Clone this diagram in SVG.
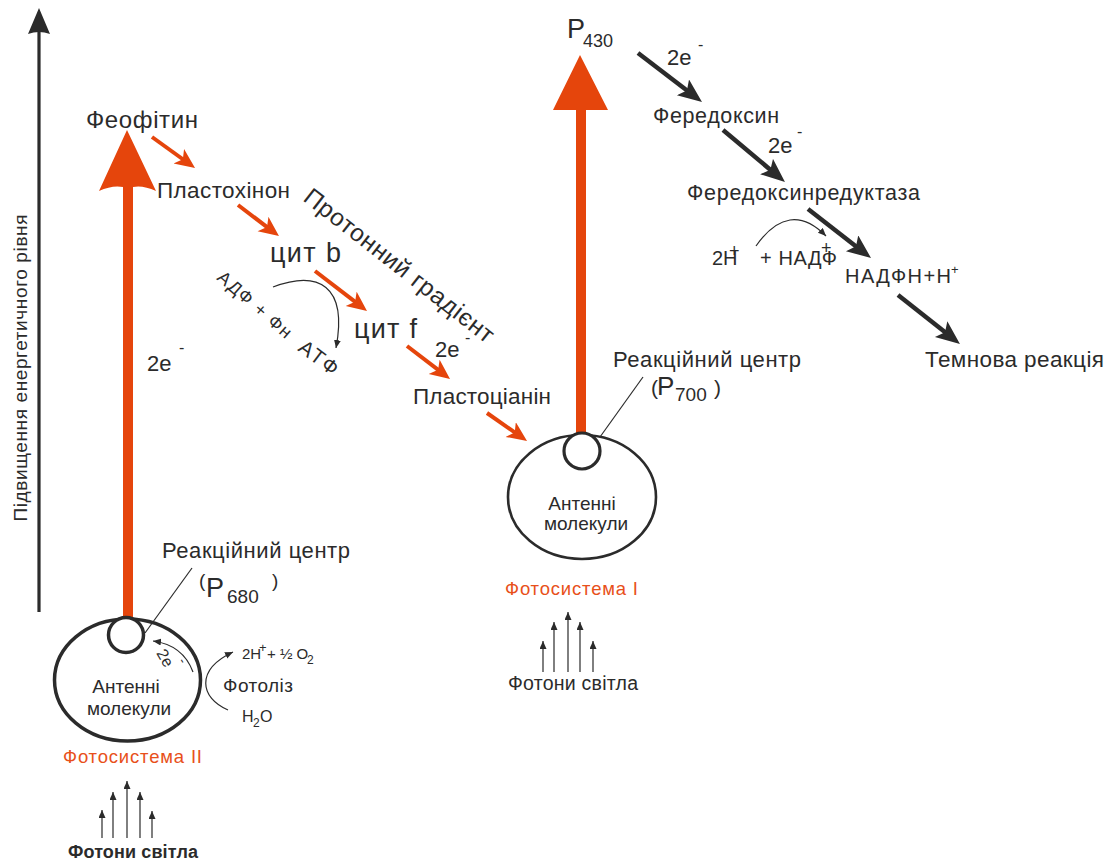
<svg xmlns="http://www.w3.org/2000/svg" width="1111" height="863" viewBox="0 0 1111 863">
<style>
text{font-family:"Liberation Sans",Arial,sans-serif;fill:#2b2b2b}
.or{fill:#E8501A}
.ra{stroke:#E5450C;stroke-width:4;fill:none}
.ba{stroke:#2b2b2b;stroke-width:4.5;fill:none}
.th{stroke:#2b2b2b;stroke-width:1.2;fill:none}
.big{fill:#E5450C}
</style>
<defs>
<marker id="ha" markerUnits="userSpaceOnUse" markerWidth="22" markerHeight="20" refX="8" refY="9" orient="auto"><path d="M0,0 L20,9 L0,18 L5,9 Z" fill="#E5450C"/></marker>
<marker id="hb" markerUnits="userSpaceOnUse" markerWidth="26" markerHeight="22" refX="8" refY="10" orient="auto"><path d="M0,0 L24,10 L0,20 L5,10 Z" fill="#2b2b2b"/></marker>
<marker id="hs" markerUnits="userSpaceOnUse" markerWidth="9" markerHeight="8" refX="8" refY="3.5" orient="auto"><path d="M0,0 L8,3.5 L0,7 Z" fill="#2b2b2b"/></marker>
</defs>

<g id="axis">
<line x1="39" y1="612" x2="39" y2="30" stroke="#2b2b2b" stroke-width="3.2"/>
<path d="M39,8 L50,34 Q39,30 28,34 Z" fill="#2b2b2b"/>
<text transform="translate(27,368) rotate(-90)" font-size="19" text-anchor="middle" textLength="307">Підвищення енергетичного рівня</text>
</g>

<g id="connectors">
<path class="big" d="M123,618 L123,187 Q112,185 99,191 L127,130 L156,191 Q143,185 133,187 L133,618 Z"/>
<path class="big" d="M576,434 L576,110 L553,110 L580,55 L608,110 L586,110 L586,434 Z"/>
<line class="ra" x1="152" y1="137" x2="185.3" y2="161" marker-end="url(#ha)"/>
<line class="ra" x1="238" y1="205" x2="269.4" y2="228.8" marker-end="url(#ha)"/>
<line class="ra" x1="315" y1="271" x2="357.5" y2="303.7" marker-end="url(#ha)"/>
<line class="ra" x1="407" y1="346" x2="440.5" y2="371.7" marker-end="url(#ha)"/>
<line class="ra" x1="487" y1="413" x2="517.2" y2="434.1" marker-end="url(#ha)"/>
<line class="ba" x1="638" y1="53" x2="689.3" y2="92.3" marker-end="url(#hb)"/>
<line class="ba" x1="723" y1="130" x2="772.7" y2="171.7" marker-end="url(#hb)"/>
<line class="ba" x1="808" y1="209" x2="858.4" y2="248.2" marker-end="url(#hb)"/>
<line class="ba" x1="898" y1="295" x2="947.4" y2="334.1" marker-end="url(#hb)"/>
<path class="th" d="M273,287 C318,270 348,285 336,348" marker-end="url(#hs)"/>
<path class="th" d="M756,246 Q789,199 826,236" marker-end="url(#hs)"/>
<path class="th" d="M193,672 Q183,645 153,641" marker-end="url(#hs)"/>
<path class="th" d="M228,710 C200,698 195,670 233,652" marker-end="url(#hs)"/>
<line class="th" x1="145" y1="633" x2="192" y2="568"/>
<line class="th" x1="600" y1="437" x2="643" y2="377"/>
<line class="th" x1="102" y1="838" x2="102" y2="810" marker-end="url(#hs)"/>
<line class="th" x1="113" y1="838" x2="113" y2="792" marker-end="url(#hs)"/>
<line class="th" x1="127" y1="838" x2="127" y2="781" marker-end="url(#hs)"/>
<line class="th" x1="140" y1="838" x2="140" y2="792" marker-end="url(#hs)"/>
<line class="th" x1="152" y1="838" x2="152" y2="811" marker-end="url(#hs)"/>
<line class="th" x1="543" y1="672" x2="543" y2="641" marker-end="url(#hs)"/>
<line class="th" x1="554" y1="672" x2="554" y2="622" marker-end="url(#hs)"/>
<line class="th" x1="568" y1="672" x2="568" y2="612" marker-end="url(#hs)"/>
<line class="th" x1="580" y1="672" x2="580" y2="622" marker-end="url(#hs)"/>
<line class="th" x1="593" y1="672" x2="593" y2="641" marker-end="url(#hs)"/>
</g>

<g id="ps2">
<ellipse cx="127.5" cy="680" rx="73" ry="61" fill="none" stroke="#2b2b2b" stroke-width="3.5"/>
<circle cx="126" cy="635" r="17.5" fill="#fff" stroke="#2b2b2b" stroke-width="3.5"/>
<text x="126" y="693" font-size="19" text-anchor="middle">Антенні</text>
<text x="129" y="715" font-size="19" text-anchor="middle">молекули</text>
<text x="63" y="763" font-size="18.5" class="or" textLength="139">Фотосистема II</text>
<text x="68" y="858" font-size="18" font-weight="bold" textLength="130">Фотони світла</text>
<text x="162" y="558" font-size="22" textLength="188">Реакційний центр</text>
<text x="199" y="587" font-size="19">(</text>
<text x="206" y="597" font-size="27">P</text>
<text x="227" y="603" font-size="19">680</text>
<text x="272" y="587" font-size="19">)</text>
<text transform="translate(156,653) rotate(60)" font-size="16">2e</text>
<text transform="translate(178,661) rotate(60)" font-size="13">-</text>
<text x="242" y="659" font-size="15">2H</text>
<text x="259" y="652" font-size="13">+</text>
<text x="267" y="659" font-size="15">+ ½ O</text>
<text x="307" y="664" font-size="12">2</text>
<text x="223" y="692" font-size="19" textLength="70">Фотоліз</text>
<text x="242" y="722" font-size="16">H</text>
<text x="253" y="727" font-size="12">2</text>
<text x="260" y="722" font-size="16">O</text>
</g>

<g id="ps2-electron">
<text x="147" y="371" font-size="22">2e</text>
<text x="179" y="353" font-size="16">-</text>
</g>

<g id="feofitin"><text x="86" y="128" font-size="24" textLength="112">Феофітин</text></g>
<g id="plastoquinone"><text x="157" y="198" font-size="22.5" textLength="133">Пластохінон</text></g>
<g id="cyt-b"><text x="270" y="262" font-size="27" textLength="71">цит b</text></g>
<g id="cyt-f"><text x="354" y="338" font-size="27" textLength="63">цит f</text></g>
<g id="plastocyanin"><text x="413" y="404" font-size="22.5" textLength="138">Пластоціанін</text></g>
<g id="cytf-electron">
<text x="435" y="357" font-size="22">2e</text>
<text x="465" y="343" font-size="16">-</text>
</g>
<g id="gradient"><text transform="translate(302,200) rotate(38)" font-size="24.5" textLength="234">Протонний градієнт</text></g>
<g id="atp">
<text transform="translate(216,279) rotate(41)" font-size="18" textLength="92">АДФ + Фн</text>
<text transform="translate(297,350) rotate(37)" font-size="20.5" textLength="44">АТФ</text>
</g>

<g id="ps1">
<ellipse cx="582" cy="497" rx="74" ry="62" fill="none" stroke="#2b2b2b" stroke-width="2.6"/>
<circle cx="582" cy="451" r="18" fill="#fff" stroke="#2b2b2b" stroke-width="3.2"/>
<text x="582" y="510" font-size="19" text-anchor="middle">Антенні</text>
<text x="586" y="530" font-size="19" text-anchor="middle">молекули</text>
<text x="505" y="595" font-size="18.5" class="or" textLength="133">Фотосистема I</text>
<text x="508" y="690" font-size="19.5" textLength="130">Фотони світла</text>
<text x="613" y="367" font-size="22" textLength="188">Реакційний центр</text>
<text x="651" y="395" font-size="21">(</text>
<text x="657" y="395" font-size="26">P</text>
<text x="675" y="401" font-size="19">700</text>
<text x="714" y="395" font-size="21">)</text>
</g>

<g id="p430">
<text x="567" y="38" font-size="27">P</text>
<text x="583" y="47" font-size="18">430</text>
</g>
<g id="ferredoxin">
<text x="667" y="65" font-size="22">2e</text>
<text x="698" y="50" font-size="16">-</text>
<text x="653" y="123" font-size="21.5" textLength="126">Фередоксин</text>
</g>
<g id="fnr">
<text x="768" y="153" font-size="22">2e</text>
<text x="797" y="137" font-size="16">-</text>
<text x="687" y="200" font-size="21.5" textLength="233">Фередоксинредуктаза</text>
</g>
<g id="nadp">
<text x="712" y="265" font-size="20">2H</text>
<text x="729" y="257" font-size="18">+</text>
<text x="760" y="265" font-size="20" textLength="77">+ НАДФ</text>
<text x="821" y="254" font-size="18">+</text>
</g>
<g id="nadph">
<text x="845" y="283" font-size="20" textLength="106">НАДФН+Н</text>
<text x="951" y="274" font-size="13">+</text>
</g>
<g id="dark"><text x="925" y="367" font-size="22.5" textLength="179">Темнова реакція</text></g>
</svg>
